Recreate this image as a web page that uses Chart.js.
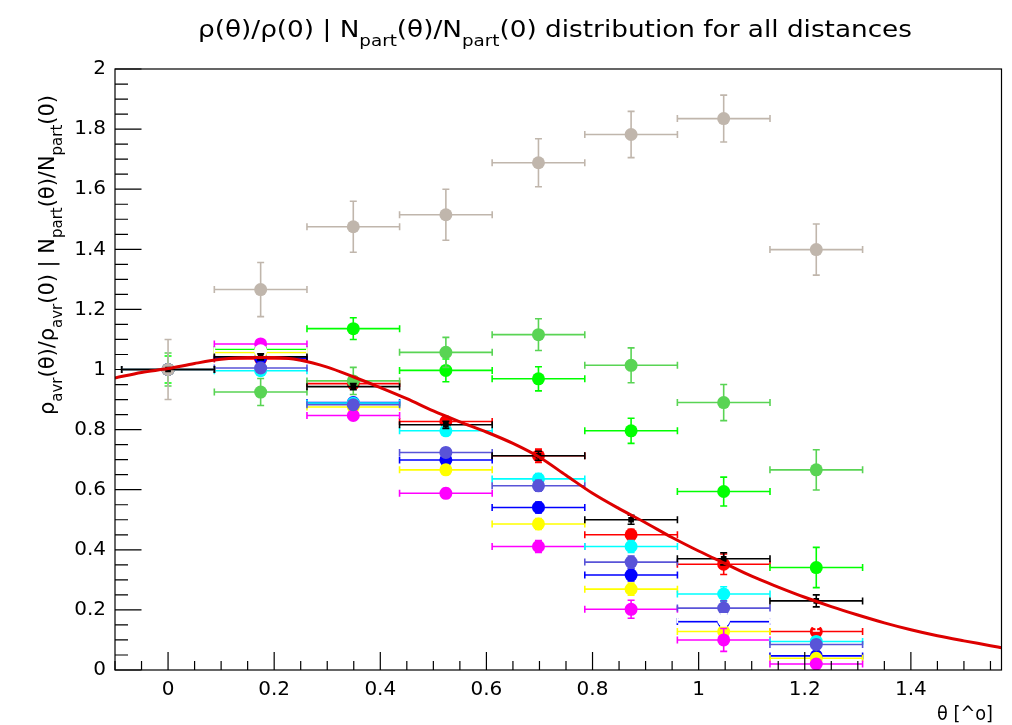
<!DOCTYPE html>
<html>
<head>
<meta charset="utf-8">
<script src="https://cdn.jsdelivr.net/npm/chart.js@4/dist/chart.umd.min.js"></script>
<style>
html,body{margin:0;padding:0;background:#fff;}
#wrap{width:1012px;height:725px;position:relative;}
canvas{display:block;}
</style>
</head>
<body>
<div id="wrap"><canvas id="c" width="1012" height="725"></canvas></div>
<script>
// ---- data ----
const thetaBins = [0, 0.1745, 0.3491, 0.5236, 0.6981, 0.8727, 1.0472, 1.2217];
const thetaHalfWidth = [0.0873, 0.0873, 0.0873, 0.0873, 0.0873, 0.0873, 0.0873, 0.0873];

const blackVals   = [1.000, 1.042, 0.943, 0.816, 0.713, 0.500, 0.370, 0.230];
const blackErr    = [0, 0.010, 0.010, 0.012, 0.015, 0.015, 0.020, 0.020];
const redVals     = [1.000, 1.035, 0.953, 0.827, 0.713, 0.450, 0.352, 0.128];
const redErr      = [0, 0.010, 0.012, 0.016, 0.022, 0.018, 0.034, 0.020];
const greenVals   = [1.000, 1.066, 1.136, 0.997, 0.969, 0.796, 0.594, 0.341];
const greenErr    = [0.045, 0.030, 0.036, 0.038, 0.040, 0.042, 0.048, 0.067];
const blueVals    = [1.000, 1.038, 0.890, 0.699, 0.541, 0.316, 0.161, 0.047];
const blueErr     = [0, 0.010, 0.012, 0.015, 0.018, 0.020, 0.025, 0.015];
const yellowVals  = [1.000, 1.057, 0.875, 0.666, 0.486, 0.269, 0.128, 0.039];
const yellowErr   = [0, 0.010, 0.012, 0.015, 0.018, 0.020, 0.025, 0.015];
const magentaVals = [1.000, 1.085, 0.847, 0.588, 0.411, 0.202, 0.100, 0.020];
const magentaErr  = [0, 0.012, 0.014, 0.016, 0.020, 0.030, 0.038, 0.015];
const cyanVals    = [1.000, 0.996, 0.888, 0.796, 0.636, 0.411, 0.253, 0.095];
const cyanErr     = [0, 0.010, 0.012, 0.015, 0.018, 0.020, 0.024, 0.015];
const grassVals   = [1.000, 0.925, 0.962, 1.057, 1.116, 1.014, 0.890, 0.666];
const grassErr    = [0.055, 0.045, 0.045, 0.050, 0.053, 0.058, 0.060, 0.067];
const slateVals   = [1.000, 1.005, 0.883, 0.724, 0.613, 0.359, 0.206, 0.085];
const slateErr    = [0, 0.010, 0.012, 0.015, 0.018, 0.020, 0.024, 0.015];
const whiteVals   = [null, 1.062, null, null, null, null, 0.167, 0.160];
const whiteErr    = [0, 0.010, 0, 0, 0, 0, 0.020, 0.030];
const grayVals    = [1.000, 1.266, 1.475, 1.515, 1.688, 1.782, 1.835, 1.399];
const grayErr     = [0.100, 0.090, 0.085, 0.085, 0.080, 0.077, 0.078, 0.085];

const fitTheta  = [-0.1, -0.05, 0, 0.05, 0.1, 0.15, 0.2, 0.25, 0.3, 0.35, 0.4, 0.45, 0.5, 0.55, 0.6, 0.65, 0.7, 0.75, 0.8, 0.85, 0.9, 0.95, 1.0, 1.05, 1.1, 1.15, 1.2, 1.25, 1.3, 1.35, 1.4, 1.45, 1.5, 1.55, 1.5708];
const fitValues = [0.972, 0.990, 1.003, 1.020, 1.034, 1.040, 1.040, 1.031, 1.008, 0.975, 0.940, 0.903, 0.862, 0.826, 0.792, 0.754, 0.708, 0.648, 0.588, 0.537, 0.490, 0.441, 0.396, 0.354, 0.312, 0.276, 0.242, 0.211, 0.183, 0.157, 0.134, 0.114, 0.097, 0.081, 0.074];

const xTickValues = [0, 0.2, 0.4, 0.6, 0.8, 1.0, 1.2, 1.4];
const xTickLabels = ['0', '0.2', '0.4', '0.6', '0.8', '1', '1.2', '1.4'];
const yTickValues = [0, 0.2, 0.4, 0.6, 0.8, 1.0, 1.2, 1.4, 1.6, 1.8, 2.0];
const yTickLabels = ['0', '0.2', '0.4', '0.6', '0.8', '1', '1.2', '1.4', '1.6', '1.8', '2'];

// ---- styling ----
const FONT = "'DejaVu Sans', 'Liberation Sans', Arial, sans-serif";

function series(label, vals, errs, color, order, opts) {
  return Object.assign({
    type: 'scatter',
    label: label,
    data: thetaBins.map((x, i) => ({x: x, y: vals[i]})),
    yErr: errs,
    xErr: thetaHalfWidth,
    errColor: color,
    backgroundColor: color,
    borderColor: color,
    pointBackgroundColor: color,
    pointBorderWidth: 0,
    pointRadius: 6.5,
    pointHoverRadius: 6.5,
    showLine: false,
    order: order
  }, opts || {});
}

const datasets = [
  {
    type: 'line', label: 'fit',
    data: fitTheta.map((x, i) => ({x: x, y: fitValues[i]})),
    borderColor: '#dd0000', borderWidth: 3, pointRadius: 0,
    cubicInterpolationMode: 'monotone', fill: false, order: -1
  },
  series('black', blackVals, blackErr, '#000000', 0, {pointStyle: 'rect', pointRadius: 4}),
  series('gray', grayVals, grayErr, '#c0b6ac', 1),
  series('white', whiteVals, whiteErr, '#ffffff', 2),
  series('slate', slateVals, slateErr, '#5954d8', 3),
  series('grass', grassVals, grassErr, '#59d454', 4),
  series('cyan', cyanVals, cyanErr, '#00ffff', 5),
  series('magenta', magentaVals, magentaErr, '#ff00ff', 6),
  series('yellow', yellowVals, yellowErr, '#ffff00', 7),
  series('blue', blueVals, blueErr, '#0000ff', 8),
  series('green', greenVals, greenErr, '#00ff00', 9),
  series('red', redVals, redErr, '#ff0000', 10)
];

const errorBars = {
  id: 'errorBars',
  beforeDatasetDraw(chart, args) {
    const ds = chart.data.datasets[args.index];
    if (!ds.yErr) return;
    const xs = chart.scales.x, ys = chart.scales.y, ctx = chart.ctx, a = chart.chartArea;
    const cap = 3.5;
    ctx.save();
    ctx.beginPath();
    ctx.rect(a.left, a.top, a.right - a.left, a.bottom - a.top);
    ctx.clip();
    ctx.strokeStyle = ds.errColor;
    ctx.lineWidth = 1.6;
    ds.data.forEach((p, i) => {
      if (p.y === null || p.y === undefined) return;
      const px = xs.getPixelForValue(p.x), py = ys.getPixelForValue(p.y);
      const xe = ds.xErr[i] || 0, ye = ds.yErr[i] || 0;
      ctx.beginPath();
      if (xe > 0) {
        const xl = xs.getPixelForValue(p.x - xe), xr = xs.getPixelForValue(p.x + xe);
        ctx.moveTo(xl, py); ctx.lineTo(xr, py);
        ctx.moveTo(xl, py - cap); ctx.lineTo(xl, py + cap);
        ctx.moveTo(xr, py - cap); ctx.lineTo(xr, py + cap);
      }
      if (ye > 0) {
        const yt = ys.getPixelForValue(p.y + ye), yb = ys.getPixelForValue(p.y - ye);
        ctx.moveTo(px, yt); ctx.lineTo(px, yb);
        ctx.moveTo(px - cap, yt); ctx.lineTo(px + cap, yt);
        ctx.moveTo(px - cap, yb); ctx.lineTo(px + cap, yb);
      }
      ctx.stroke();
    });
    ctx.restore();
  }
};

// draws text with sub-scripts, stretched horizontally to a target width
function drawRich(ctx, parts, x, y, align, size, subSize, subShift, targetW) {
  let w = 0;
  parts.forEach(p => {
    ctx.font = (p.sub ? subSize : size) + 'px ' + FONT;
    p.w = ctx.measureText(p.t).width;
    w += p.w;
  });
  const k = targetW ? targetW / w : 1;
  const tw = w * k;
  const start = align === 'center' ? x - tw / 2 : (align === 'right' ? x - tw : x);
  ctx.save();
  ctx.translate(start, y);
  ctx.scale(k, 1);
  ctx.textAlign = 'left';
  ctx.textBaseline = 'alphabetic';
  let cx = 0;
  parts.forEach(p => {
    ctx.font = (p.sub ? subSize : size) + 'px ' + FONT;
    ctx.fillText(p.t, cx, p.sub ? subShift : 0);
    cx += p.w;
  });
  ctx.restore();
}

const frameAndText = {
  id: 'frameAndText',
  afterDraw(chart) {
    const ctx = chart.ctx, a = chart.chartArea, xs = chart.scales.x, ys = chart.scales.y;
    ctx.save();
    ctx.strokeStyle = '#000';
    ctx.lineWidth = 1.2;
    ctx.strokeRect(a.left, a.top, a.right - a.left, a.bottom - a.top);
    ctx.beginPath();
    const yMajor = 26.5, yMinor = 13;
    for (let k = 0; k <= 40; k++) {
      const v = k * 0.05;
      const py = ys.getPixelForValue(v);
      const len = (k % 4 === 0) ? yMajor : yMinor;
      ctx.moveTo(a.left, py); ctx.lineTo(a.left + len, py);
    }
    const xMajor = 18, xMinor = 9;
    for (let k = -2; k <= 31; k++) {
      const v = k * 0.05;
      if (v < xs.min - 1e-9 || v > xs.max + 1e-9) continue;
      const px = xs.getPixelForValue(v);
      const len = (k % 4 === 0) ? xMajor : xMinor;
      ctx.moveTo(px, a.bottom); ctx.lineTo(px, a.bottom - len);
    }
    ctx.lineWidth = 1.2;
    ctx.stroke();

    ctx.fillStyle = '#000';
    drawRich(ctx, [
      {t: 'ρ(θ)/ρ(0) | N'}, {t: 'part', sub: true}, {t: '(θ)/N'}, {t: 'part', sub: true},
      {t: '(0) distribution for all distances'}
    ], 555, 37, 'center', 23, 16, 9, 714);
    drawRich(ctx, [{t: 'θ [^o]'}], 993, 720, 'right', 20, 14, 0, 56);
    ctx.save();
    ctx.translate(54, 95);
    ctx.rotate(-Math.PI / 2);
    drawRich(ctx, [
      {t: 'ρ'}, {t: 'avr', sub: true}, {t: '(θ)/ρ'}, {t: 'avr', sub: true}, {t: '(0) | N'},
      {t: 'part', sub: true}, {t: '(θ)/N'}, {t: 'part', sub: true}, {t: '(0)'}
    ], 0, 0, 'right', 21, 15, 8, 320);
    ctx.restore();
    ctx.restore();
  }
};

new Chart(document.getElementById('c'), {
  type: 'scatter',
  data: {datasets: datasets},
  options: {
    responsive: false,
    devicePixelRatio: 1,
    animation: false,
    events: [],
    layout: {padding: {left: 0, right: 10.5, top: 69, bottom: 0}},
    plugins: {legend: {display: false}, tooltip: {enabled: false}, title: {display: false}},
    scales: {
      x: {
        type: 'linear', min: -0.1, max: 1.5708,
        grid: {display: false, drawTicks: false}, border: {display: false},
        afterBuildTicks: s => { s.ticks = xTickValues.map(v => ({value: v})); },
        afterFit: s => { s.height = 55; },
        ticks: {
          autoSkip: false, maxRotation: 0, padding: 8, color: '#000',
          font: {family: FONT, size: 20},
          callback: v => xTickLabels[xTickValues.findIndex(t => Math.abs(t - v) < 1e-6)]
        }
      },
      y: {
        type: 'linear', min: 0, max: 2,
        grid: {display: false, drawTicks: false}, border: {display: false},
        afterBuildTicks: s => { s.ticks = yTickValues.map(v => ({value: v})); },
        afterFit: s => { s.width = 115; },
        ticks: {
          autoSkip: false, padding: 9, color: '#000',
          font: {family: FONT, size: 20},
          callback: v => yTickLabels[yTickValues.findIndex(t => Math.abs(t - v) < 1e-6)]
        }
      }
    }
  },
  plugins: [errorBars, frameAndText]
});
</script>
</body>
</html>
